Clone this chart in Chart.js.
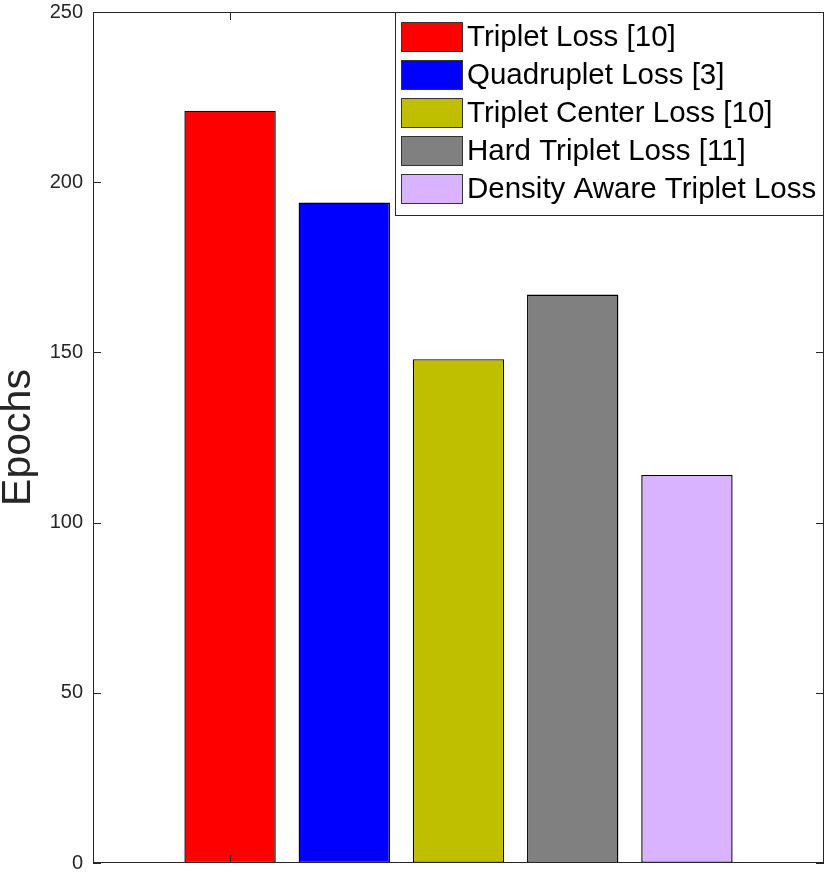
<!DOCTYPE html>
<html>
<head>
<meta charset="utf-8">
<script src="https://cdn.jsdelivr.net/npm/chart.js@4"></script>
<style>
  body { margin: 0; background: #fff; }
</style>
</head>
<body>
<canvas id="epochChart" width="836" height="878"></canvas>
<script>
// methods and the epochs each one needed
const methods = ['Triplet Loss [10]', 'Quadruplet Loss [3]', 'Triplet Center Loss [10]', 'Hard Triplet Loss [11]', 'Density Aware Triplet Loss'];
const epochs = [221, 194, 148, 167, 114];
const barColors = ['#ff0000', '#0000ff', '#bfbf00', '#808080', '#d9b3ff'];
const yTicks = [0, 50, 100, 150, 200, 250];
const xTicks = [1];

const axisColor = '#262626';
const fontFamily = '"Liberation Sans", Arial, Helvetica, sans-serif';

// box around the plot with inward tick marks, like matlab
const frame = {
    id: 'frame',
    afterDatasetsDraw(chart) {
        const { ctx, chartArea: a, scales: { x, y } } = chart;
        ctx.save();
        ctx.strokeStyle = axisColor;
        ctx.lineWidth = 1;
        ctx.strokeRect(a.left + 0.5, a.top + 0.5, a.right - a.left - 1, a.bottom - a.top - 1);
        ctx.beginPath();
        y.ticks.forEach(t => {
            const py = Math.round(y.getPixelForValue(t.value)) + 0.5;
            ctx.moveTo(a.left, py); ctx.lineTo(a.left + 8, py);
            ctx.moveTo(a.right, py); ctx.lineTo(a.right - 8, py);
        });
        x.ticks.forEach(t => {
            const px = Math.round(x.getPixelForValue(t.value)) + 0.5;
            ctx.moveTo(px, a.bottom); ctx.lineTo(px, a.bottom - 8);
            ctx.moveTo(px, a.top); ctx.lineTo(px, a.top + 8);
        });
        ctx.stroke();
        ctx.restore();
    }
};

// legend drawn in the top right corner of the plot
const boxLegend = {
    id: 'boxLegend',
    afterDraw(chart) {
        const { ctx, chartArea: a } = chart;
        const sets = chart.data.datasets;
        ctx.save();
        ctx.font = '29.5px ' + fontFamily;
        const textW = Math.max(...sets.map(d => ctx.measureText(d.label).width));
        const swW = 62, swH = 30, rowH = 38, padL = 6, gap = 4, padR = 8, padT = 10;
        const w = padL + swW + gap + textW + padR;
        const h = padT + rowH * sets.length + 3;
        const left = Math.round(a.right - w);
        const top = a.top;
        ctx.fillStyle = '#fff';
        ctx.fillRect(left, top, w, h);
        ctx.strokeStyle = axisColor;
        ctx.lineWidth = 1;
        ctx.strokeRect(left + 0.5, top + 0.5, a.right - left - 1, h);
        ctx.textBaseline = 'middle';
        sets.forEach((d, i) => {
            const sy = top + padT + i * rowH;
            ctx.fillStyle = d.backgroundColor;
            ctx.fillRect(left + padL, sy, swW, swH);
            ctx.strokeStyle = '#333';
            ctx.strokeRect(left + padL + 0.5, sy + 0.5, swW - 1, swH - 1);
            ctx.fillStyle = '#000';
            ctx.fillText(d.label, left + padL + swW + gap, sy + swH / 2 + 1);
        });
        ctx.restore();
    }
};

const datasets = methods.map((m, i) => ({
    label: m,
    data: [{ x: i + 1, y: epochs[i] }],
    backgroundColor: barColors[i],
    borderColor: '#000',
    borderWidth: 1.4,
    borderSkipped: false,
    grouped: false,
    barPercentage: 0.8,
    categoryPercentage: 1
}));

new Chart(document.getElementById('epochChart'), {
    type: 'bar',
    data: { datasets },
    options: {
        responsive: false,
        animation: false,
        layout: { padding: { left: 0, top: 12, right: 12, bottom: 15 } },
        plugins: { legend: { display: false }, tooltip: { enabled: false } },
        scales: {
            x: {
                type: 'linear',
                offset: false,
                min: -0.2,
                max: 6.2,
                afterBuildTicks: s => { s.ticks = xTicks.map(v => ({ value: v })); },
                afterFit: s => { s.height = 0; s.paddingLeft = 0; s.paddingRight = 0; },
                ticks: { display: false },
                grid: { display: false },
                border: { display: false }
            },
            y: {
                min: 0,
                max: 250,
                afterBuildTicks: s => { s.ticks = yTicks.map(v => ({ value: v })); },
                afterFit: s => { s.width = 93; s.paddingTop = 0; s.paddingBottom = 0; },
                ticks: {
                    color: axisColor,
                    padding: 10,
                    font: { family: fontFamily, size: 20 }
                },
                grid: { display: false, drawTicks: false },
                border: { display: false },
                title: {
                    display: true,
                    text: 'Epochs',
                    color: axisColor,
                    padding: 0,
                    font: { family: fontFamily, size: 41, lineHeight: 0.9 }
                }
            }
        }
    },
    plugins: [frame, boxLegend]
});
</script>
</body>
</html>
